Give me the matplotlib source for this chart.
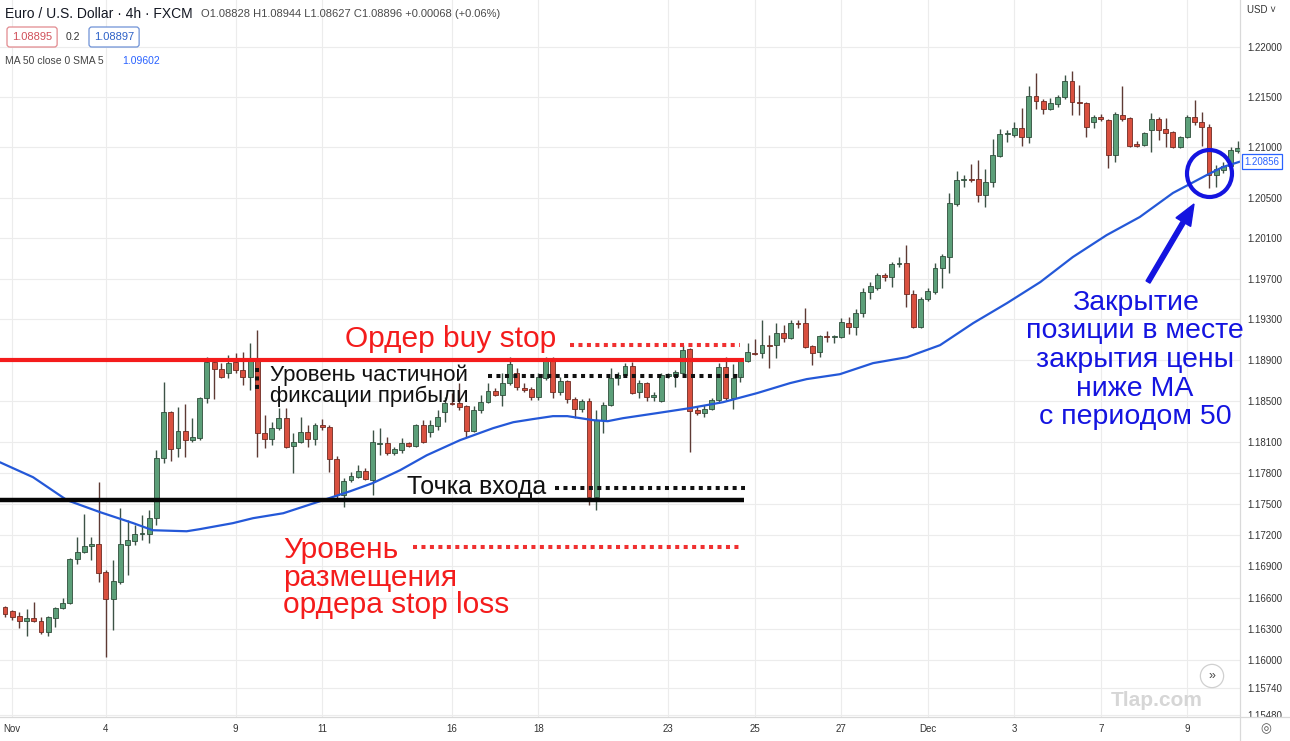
import numpy as np
import matplotlib
matplotlib.use("Agg")
import matplotlib.pyplot as plt
from matplotlib.patches import Ellipse, FancyArrow
from matplotlib.ticker import FixedLocator, FixedFormatter, NullLocator, NullFormatter
from matplotlib.transforms import Bbox, TransformedBbox, blended_transform_factory
from matplotlib.lines import Line2D

# ---------------- data (EUR/USD 4h) ----------------
opens = [1.16508,1.16470,1.16422,1.16374,1.16402,1.16374,1.16268,1.16402,1.16498,1.16546,
 1.16968,1.17035,1.17093,1.17112,1.16843,1.16585,1.16748,1.17103,1.17142,1.17209,
 1.17209,1.17364,1.17944,1.18392,1.18041,1.18207,1.18119,1.18138,1.18528,1.18879,
 1.18811,1.18772,1.18879,1.18801,1.18733,1.18918,1.18187,1.18129,1.18236,1.18333,
 1.18060,1.18099,1.18197,1.18129,1.18265,1.18246,1.17934,1.17586,1.17731,1.17760,
 1.17818,1.17731,1.18080,1.18090,1.17992,1.18021,1.18090,1.18060,1.18265,1.18197,
 1.18255,1.18392,1.18480,1.18480,1.18450,1.18207,1.18411,1.18489,1.18597,1.18558,
 1.18675,1.18772,1.18626,1.18616,1.18538,1.18723,1.18899,1.18587,1.18694,1.18519,
 1.18421,1.18499,1.17567,1.18314,1.18460,1.18723,1.18753,1.18840,1.18587,1.18675,
 1.18538,1.18499,1.18743,1.18743,1.18772,1.19006,1.18411,1.18382,1.18421,1.18509,
 1.18831,1.18528,1.18733,1.18889,1.18967,1.18967,1.19046,1.19046,1.19163,1.19114,
 1.19262,1.19262,1.19036,1.18977,1.19134,1.19124,1.19124,1.19262,1.19223,1.19360,
 1.19567,1.19606,1.19734,1.19714,1.19842,1.19852,1.19547,1.19223,1.19498,1.19567,
 1.19802,1.19911,1.20435,1.20673,1.20683,1.20683,1.20525,1.20653,1.20911,1.21131,
 1.21121,1.21191,1.21101,1.21510,1.21460,1.21381,1.21430,1.21500,1.21660,1.21450,
 1.21440,1.21251,1.21301,1.21271,1.20921,1.21321,1.21291,1.21031,1.21021,1.21171,
 1.21281,1.21181,1.21151,1.21001,1.21101,1.21301,1.21251,1.21201,1.20723,1.20772,
 1.20812,1.20961]
highs = [1.16517,1.16479,1.16460,1.16489,1.16556,1.16412,1.16422,1.16508,1.16594,1.16978,
 1.17180,1.17403,1.17180,1.17712,1.16863,1.16958,1.17461,1.17345,1.17296,1.17393,
 1.17441,1.18022,1.18684,1.18402,1.18441,1.18470,1.18334,1.18538,1.18928,1.18899,
 1.18870,1.18948,1.18967,1.18977,1.19065,1.19193,1.18363,1.18294,1.18431,1.18431,
 1.18187,1.18343,1.18265,1.18285,1.18324,1.18265,1.17963,1.17751,1.17809,1.17876,
 1.17847,1.18216,1.18236,1.18148,1.18051,1.18138,1.18099,1.18275,1.18314,1.18314,
 1.18411,1.18538,1.18577,1.18675,1.18460,1.18450,1.18558,1.18675,1.18626,1.18772,
 1.18928,1.18821,1.18675,1.18636,1.18772,1.18928,1.18928,1.18733,1.18704,1.18538,
 1.18519,1.18528,1.18411,1.18489,1.18821,1.18782,1.18870,1.18879,1.18704,1.18684,
 1.18587,1.18772,1.18772,1.18801,1.19046,1.19016,1.18450,1.18460,1.18528,1.18870,
 1.18928,1.18860,1.18918,1.19065,1.19105,1.19291,1.19144,1.19262,1.19242,1.19291,
 1.19291,1.19409,1.19046,1.19144,1.19183,1.19144,1.19311,1.19321,1.19399,1.19606,
 1.19665,1.19753,1.19753,1.19861,1.19911,1.20029,1.19586,1.19518,1.19606,1.19852,
 1.19940,1.20544,1.20762,1.20723,1.20832,1.20872,1.20782,1.21081,1.21181,1.21171,
 1.21251,1.21391,1.21610,1.21740,1.21480,1.21490,1.21520,1.21720,1.21760,1.21620,
 1.21450,1.21321,1.21331,1.21281,1.21351,1.21610,1.21301,1.21061,1.21151,1.21341,
 1.21301,1.21291,1.21161,1.21111,1.21321,1.21470,1.21351,1.21231,1.20822,1.20852,
 1.21001,1.21061]
lows = [1.16412,1.16383,1.16307,1.16230,1.16364,1.16249,1.16230,1.16316,1.16489,1.16537,
 1.16920,1.17025,1.16958,1.16748,1.16028,1.16287,1.16728,1.16815,1.17103,1.17151,
 1.17122,1.17296,1.17895,1.17915,1.17954,1.17954,1.18099,1.18119,1.18480,1.18519,
 1.18723,1.18723,1.18772,1.18655,1.18606,1.17954,1.18041,1.18070,1.18216,1.18041,
 1.17799,1.18090,1.18051,1.18070,1.18216,1.17809,1.17557,1.17470,1.17712,1.17751,
 1.17731,1.17586,1.17973,1.17973,1.17973,1.17992,1.18051,1.18051,1.18090,1.18148,
 1.18216,1.18294,1.18460,1.18411,1.18148,1.18197,1.18382,1.18480,1.18548,1.18450,
 1.18655,1.18606,1.18587,1.18509,1.18509,1.18704,1.18528,1.18558,1.18480,1.18333,
 1.18392,1.17490,1.17441,1.18187,1.18450,1.18655,1.18733,1.18567,1.18528,1.18499,
 1.18499,1.18489,1.18723,1.18636,1.18762,1.18002,1.18363,1.18343,1.18411,1.18480,
 1.18509,1.18421,1.18684,1.18879,1.18948,1.18918,1.18821,1.18918,1.19075,1.19105,
 1.19213,1.19016,1.18850,1.18928,1.19075,1.19065,1.19114,1.19154,1.19144,1.19321,
 1.19498,1.19586,1.19675,1.19616,1.19812,1.19419,1.19213,1.19213,1.19478,1.19547,
 1.19606,1.19753,1.20416,1.20604,1.20653,1.20455,1.20406,1.20604,1.20901,1.21051,
 1.21101,1.21011,1.21041,1.21381,1.21331,1.21371,1.21401,1.21480,1.21321,1.21321,
 1.21101,1.21191,1.21261,1.20792,1.20852,1.21261,1.21001,1.21001,1.21011,1.20951,
 1.21071,1.21001,1.20991,1.20991,1.21091,1.21221,1.21011,1.20594,1.20604,1.20743,
 1.20802,1.20941]
closes = [1.16441,1.16412,1.16374,1.16402,1.16374,1.16268,1.16412,1.16498,1.16546,1.16968,
 1.17035,1.17093,1.17112,1.16834,1.16585,1.16757,1.17112,1.17151,1.17209,1.17219,
 1.17364,1.17944,1.18392,1.18031,1.18207,1.18119,1.18148,1.18528,1.18879,1.18811,
 1.18733,1.18870,1.18801,1.18733,1.18918,1.18187,1.18129,1.18236,1.18333,1.18051,
 1.18099,1.18197,1.18129,1.18265,1.18246,1.17934,1.17586,1.17722,1.17770,1.17818,
 1.17741,1.18099,1.18090,1.17992,1.18031,1.18090,1.18060,1.18265,1.18099,1.18265,
 1.18343,1.18480,1.18470,1.18441,1.18207,1.18411,1.18489,1.18597,1.18558,1.18675,
 1.18860,1.18636,1.18606,1.18538,1.18733,1.18899,1.18587,1.18694,1.18519,1.18421,
 1.18499,1.17567,1.18314,1.18460,1.18723,1.18753,1.18840,1.18577,1.18675,1.18538,
 1.18558,1.18753,1.18762,1.18782,1.18996,1.18402,1.18382,1.18421,1.18509,1.18831,
 1.18528,1.18723,1.18899,1.18977,1.18957,1.19046,1.19036,1.19163,1.19114,1.19262,
 1.19252,1.19026,1.18967,1.19134,1.19124,1.19134,1.19272,1.19223,1.19360,1.19567,
 1.19626,1.19734,1.19714,1.19842,1.19852,1.19547,1.19223,1.19498,1.19577,1.19802,
 1.19920,1.20445,1.20673,1.20683,1.20673,1.20525,1.20653,1.20921,1.21131,1.21141,
 1.21191,1.21101,1.21510,1.21460,1.21381,1.21440,1.21500,1.21660,1.21450,1.21440,
 1.21201,1.21301,1.21281,1.20921,1.21331,1.21281,1.21011,1.21011,1.21141,1.21281,
 1.21171,1.21141,1.21001,1.21101,1.21301,1.21251,1.21201,1.20723,1.20782,1.20812,
 1.20971,1.20991]

# MA 50 line, x = candle index
ma_idx = [-0.7, 3.9, 8.6, 13.2, 17.8, 20.5, 25.2, 27, 31.6, 34.4, 38.6, 43.3, 47.9, 51, 54.8,
          58.5, 63.1, 67.7, 70.5, 73.2, 76, 78, 81.6, 83.6, 85.7, 90.4, 95, 99.6, 104.3, 108.9,
          111.2, 115.8, 120.4, 125.1, 129.7, 134.3, 139, 143.6, 148.1, 152.8, 157.4, 162,
          166.7, 168.9, 171.3]
ma_val = [1.17905, 1.17760, 1.17538, 1.17422, 1.17316, 1.17248, 1.17238, 1.17258, 1.17316,
          1.17364, 1.17412, 1.17519, 1.17625, 1.17703, 1.17828, 1.17973, 1.18119, 1.18236,
          1.18294, 1.18324, 1.18353, 1.18353, 1.18314, 1.18304, 1.18333, 1.18382, 1.18431,
          1.18489, 1.18577, 1.18675, 1.18714, 1.18762, 1.18870, 1.18928, 1.19046, 1.19262,
          1.19459, 1.19665, 1.19911, 1.20128, 1.20307, 1.20545, 1.20723, 1.20802, 1.20856]
ma_last = 1.20856

ytick_vals = [1.22, 1.215, 1.21, 1.205, 1.201, 1.197, 1.193, 1.189, 1.185, 1.181,
              1.178, 1.175, 1.172, 1.169, 1.166, 1.163, 1.160, 1.1574, 1.1548]
xtick_pos = [1, 14, 32, 44, 62, 74, 92, 104, 116, 128, 140, 152, 164]
xtick_labels = ['Nov', '4', '9', '11', '16', '18', '23', '25', '27', 'Dec', '3', '7', '9']

# annotation levels (price) and extents (candle index)
buy_stop_level = 1.18899
entry_level = 1.17538
level_x = (-0.7, 102.5)
buy_stop_dots = (1.19046, 78.4, 101.9)
partial_dots = (1.18743, 67.0, 102.2)
entry_dots = (1.17654, 76.3, 102.6)
stop_loss_dots = (1.17083, 56.6, 101.9)
partial_vdots = (35, 1.18821, 1.18606)

# ---------------- figure ----------------
W, H = 1290, 741
plt.rcParams['font.family'] = ['Liberation Sans', 'DejaVu Sans']
fig = plt.figure(figsize=(W / 100, H / 100), dpi=100)
fig.patch.set_facecolor('white')
AX_BOTTOM, AX_RIGHT = 717, 1240
ax = fig.add_axes([0, (H - AX_BOTTOM) / H, AX_RIGHT / W, AX_BOTTOM / H])
ax.set_facecolor('white')
ax.set_yscale('log')
ax.set_xlim(-0.69, 171.3)
ax.set_ylim(1.15461, 1.22473)

for s in ax.spines.values():
    s.set_visible(False)

ax.yaxis.set_major_locator(FixedLocator(ytick_vals))
ax.yaxis.set_major_formatter(FixedFormatter([f'{v:.5f}' for v in ytick_vals]))
ax.yaxis.set_minor_locator(NullLocator())
ax.yaxis.set_minor_formatter(NullFormatter())
ax.yaxis.tick_right()
ax.tick_params(axis='y', length=0, pad=5, labelsize=7, labelcolor='#333333')
ax.xaxis.set_major_locator(FixedLocator(xtick_pos))
ax.xaxis.set_major_formatter(FixedFormatter(xtick_labels))
ax.tick_params(axis='x', length=0, pad=5, labelsize=7, labelcolor='#333333')
ax.grid(True, color='#ececec', linewidth=0.8, zorder=0)
ax.set_axisbelow(True)

clipbox = TransformedBbox(Bbox([[0, (H - AX_BOTTOM) / H], [1, 1]]), fig.transFigure)
for t in ax.yaxis.get_major_ticks():
    t.label2.set_clip_box(clipbox)
    t.label2.set_clip_on(True)

# candles
o = np.array(opens); h = np.array(highs); l = np.array(lows); c = np.array(closes)
x = np.arange(len(o))
up = c >= o
UP_FILL, UP_EDGE = '#5c9f79', '#2f4d3b'
DN_FILL, DN_EDGE = '#d9503f', '#6e2a22'
wick_cols = np.where(up, '#3d5246', '#5e3a34')
ax.vlines(x, l, h, colors=wick_cols, linewidth=1.0, zorder=2)
body_lo = np.minimum(o, c)
body_h = np.maximum(np.abs(c - o), 0.00012)
ax.bar(x, body_h, bottom=body_lo, width=0.68,
       color=np.where(up, UP_FILL, DN_FILL), edgecolor=np.where(up, UP_EDGE, DN_EDGE),
       linewidth=0.6, zorder=3)

# MA 50
MA_BLUE = '#2458d8'
ax.plot(ma_idx, ma_val, color=MA_BLUE, linewidth=1.6, zorder=4, solid_capstyle='round')

# levels
RED = '#f41c1c'
BLUE = '#1414e0'
ax.plot(level_x, [buy_stop_level] * 2, color=RED, linewidth=3.0, zorder=5, solid_capstyle='butt')
ax.plot(level_x, [entry_level] * 2, color='#050505', linewidth=3.2, zorder=5, solid_capstyle='butt')
dot = dict(linewidth=2.9, linestyle=(0, (1, 1.1)), dash_capstyle='butt', zorder=5)
ax.plot(buy_stop_dots[1:], [buy_stop_dots[0]] * 2, color='#f03030', **dot)
ax.plot(stop_loss_dots[1:], [stop_loss_dots[0]] * 2, color='#f03030', **dot)
ax.plot(partial_dots[1:], [partial_dots[0]] * 2, color='#111111', **dot)
ax.plot(entry_dots[1:], [entry_dots[0]] * 2, color='#111111', **dot)
ax.plot([partial_vdots[0]] * 2, partial_vdots[1:], color='#111111', **dot)

# MA value label on the price scale
bt = blended_transform_factory(ax.transAxes, ax.transData)
ax.text(1.0035, ma_last, f'{ma_last:.5f}', transform=bt, clip_on=False, fontsize=7,
        color='#2962ff', va='center', ha='left',
        bbox=dict(boxstyle='square,pad=0.25', fc='white', ec='#2962ff', lw=0.9))


def fx(px):
    return px / W


def fy(py):
    return 1 - py / H


# frame lines
fig.add_artist(Line2D([0, 1], [fy(AX_BOTTOM), fy(AX_BOTTOM)], transform=fig.transFigure,
                      color='#d9d9d9', lw=0.9))
fig.add_artist(Line2D([fx(AX_RIGHT), fx(AX_RIGHT)], [0, 1], transform=fig.transFigure,
                      color='#d9d9d9', lw=0.9))

# header
fig.text(fx(5), fy(14), 'Euro / U.S. Dollar · 4h · FXCM', fontsize=10, color='#131722', va='center')
fig.text(fx(201), fy(14), 'O1.08828 H1.08944 L1.08627 C1.08896 +0.00068 (+0.06%)', fontsize=8,
         color='#4a4a4a', va='center')
fig.text(fx(12), fy(37), '1.08895', fontsize=8, color='#d0505a', va='center',
         bbox=dict(boxstyle='round,pad=0.45,rounding_size=0.25', fc='white', ec='#e28a8f', lw=0.9))
fig.text(fx(66), fy(37), '0.2', fontsize=7.5, color='#333333', va='center')
fig.text(fx(94), fy(37), '1.08897', fontsize=8, color='#2e62c8', va='center',
         bbox=dict(boxstyle='round,pad=0.45,rounding_size=0.25', fc='white', ec='#6f92d6', lw=0.9))
fig.text(fx(5), fy(61), 'MA 50 close 0 SMA 5', fontsize=7.5, color='#444444', va='center')
fig.text(fx(122), fy(61), '1.09602', fontsize=7.5, color='#2962ff', va='center')
fig.text(fx(1247), fy(10), 'USD ˅', fontsize=7, color='#333333', va='center')

# annotations
fig.text(fx(345), fy(347), 'Ордер buy stop', fontsize=21.5, color=RED, va='baseline')
fig.text(fx(270), fy(381), 'Уровень частичной', fontsize=16, color='#111111', va='baseline')
fig.text(fx(270), fy(402), 'фиксации прибыли', fontsize=16, color='#111111', va='baseline')
fig.text(fx(407), fy(494), 'Точка входа', fontsize=18, color='#111111', va='baseline')
fig.text(fx(283), fy(558), 'Уровень', fontsize=21.5, color=RED, va='baseline')
fig.text(fx(283), fy(586), 'размещения', fontsize=21.5, color=RED, va='baseline')
fig.text(fx(283), fy(613), 'ордера stop loss', fontsize=21.5, color=RED, va='baseline')
blue_lines = ['Закрытие', 'позиции в месте', 'закрытия цены', 'ниже MA', 'с периодом 50']
blue_base = [310, 338.5, 367, 395.5, 424]
for s, b in zip(blue_lines, blue_base):
    fig.text(fx(1135), fy(b), s, fontsize=20.5, color=BLUE, ha='center', va='baseline')

# arrow and circle (pixel-based, via inches)
fig.add_artist(FancyArrow(1148 / 100, (H - 282) / 100, 0.46, 0.78, width=0.045, head_width=0.17,
                          head_length=0.21, length_includes_head=True, color=BLUE,
                          transform=fig.dpi_scale_trans))
fig.add_artist(Ellipse((1209.5 / 100, (H - 173.5) / 100), 0.45, 0.47, fill=False, ec=BLUE, lw=3.0,
                       transform=fig.dpi_scale_trans))

# bottom-right decorations
fig.text(fx(1157), fy(700), 'Tlap.com', fontsize=15, color='#d6d6d6', weight='bold',
         ha='center', va='center')
fig.text(fx(1212), fy(676), '»', fontsize=9, color='#444444', ha='center', va='center',
         bbox=dict(boxstyle='circle,pad=0.45', fc='white', ec='#d0d0d0', lw=0.9))
fig.text(fx(1266), fy(729), '◎', fontsize=9, color='#555555', ha='center', va='center',
         family='DejaVu Sans')

fig.savefig('out.png', dpi=100)
